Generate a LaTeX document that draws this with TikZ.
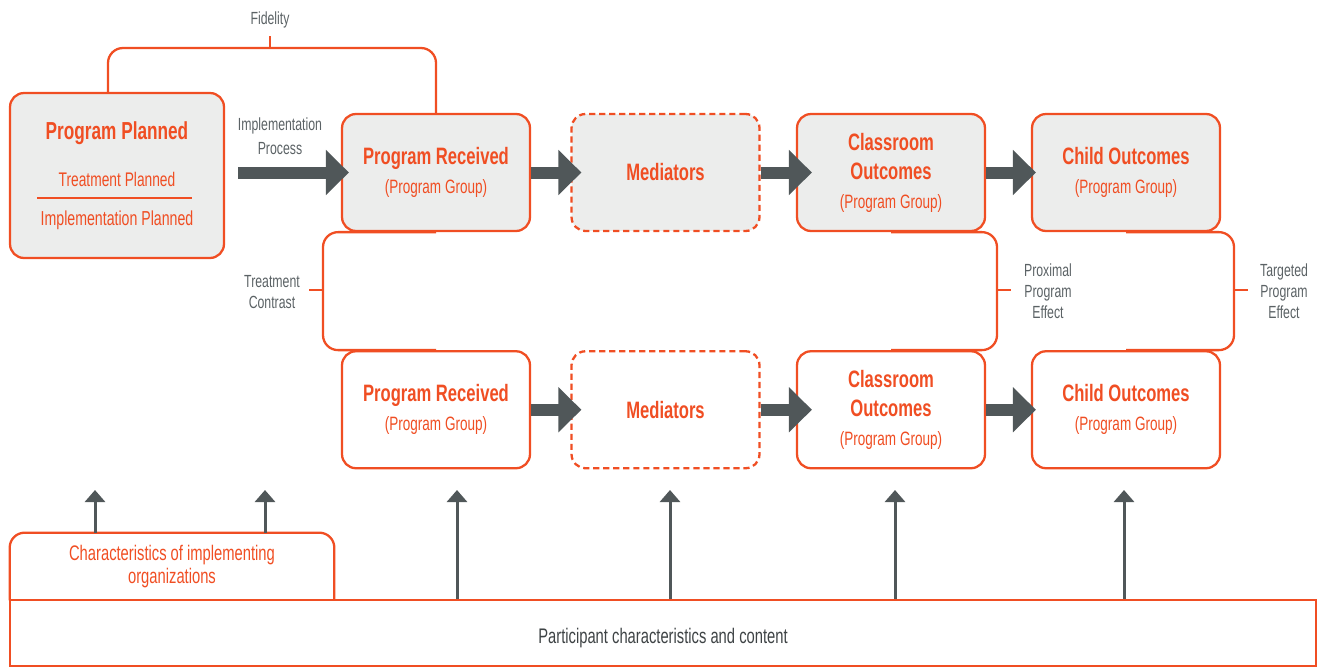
\documentclass[tikz,border=0pt]{standalone}
\usepackage{fontspec}
\setmainfont{Liberation Sans}[FakeStretch=0.7]
\usetikzlibrary{arrows.meta,positioning,backgrounds}
\definecolor{ieorange}{HTML}{F04E23}
\definecolor{iegray}{HTML}{505759}
\definecolor{iefill}{HTML}{ECEDEC}
\definecolor{ietext}{HTML}{5B6265}
\definecolor{iedark}{HTML}{3E4345}
\newcommand\boxhead[1]{{\fontsize{13.5}{16.5}\selectfont\bfseries #1}}

\begin{document}
\begin{tikzpicture}[x=0.02cm, y=-0.02cm,
    stage/.style={draw=ieorange, line width=1.3pt, rounded corners=0.28cm, fill=iefill, minimum width=3.76cm, minimum height=2.34cm, align=center, text=ieorange, font=\fontsize{11}{16.5}\selectfont},
    openstage/.style={stage, fill=white},
    mediator/.style={dash pattern=on 3.5pt off 2.2pt},
    note/.style={text=ietext, align=center, font=\fontsize{10}{12}\selectfont},
    bracket/.style={draw=ieorange, line width=1.3pt, rounded corners=0.3cm},
    flow/.style={draw=iegray, line width=0.24cm, -{Triangle[length=0.46cm, width=0.88cm]}},
    lift/.style={draw=iegray, line width=0.06cm, -{Triangle[length=0.24cm, width=0.4cm]}},
  ]
	\useasboundingbox (0,0) rectangle (1317,667);

	% program group row
	\node[stage, minimum width=4.28cm, minimum height=3.3cm] (planned) at (117,175.5) {};
	\node[stage] (pr) at (436,172.5) {\boxhead{Program Received}\\(Program Group)};
	\node[stage, mediator] (med) at (665.5,172.5) {\boxhead{Mediators}};
	\node[stage] (cls) at (891,172.5) {\boxhead{Classroom}\\\boxhead{Outcomes}\\(Program Group)};
	\node[stage] (child) at (1126,172.5) {\boxhead{Child Outcomes}\\(Program Group)};

	% second row
	\node[openstage, below=2.36cm of pr] (pr2) {\boxhead{Program Received}\\(Program Group)};
	\node[openstage, mediator, below=2.36cm of med] (med2) {\boxhead{Mediators}};
	\node[openstage, below=2.36cm of cls] (cls2) {\boxhead{Classroom}\\\boxhead{Outcomes}\\(Program Group)};
	\node[openstage, below=2.36cm of child] (child2) {\boxhead{Child Outcomes}\\(Program Group)};

	\node[text=ieorange, font=\fontsize{14}{16}\selectfont\bfseries] (plantitle) at (117,133) {Program Planned};
	\node[text=ieorange, font=\fontsize{11.2}{13}\selectfont] (treat) at (117,179) {Treatment Planned};
	\node[text=ieorange, font=\fontsize{11.5}{13}\selectfont] (implplan) at (117,220) {Implementation Planned};
	\draw[ieorange, line width=0.8pt] (37,198) -- (192,198);

	% brackets
	\coordinate (fidtop) at (270,48);
	\coordinate (contrastmid) at (323,290);
	\coordinate (proxmid) at (997,290);
	\coordinate (targmid) at (1234,290);
	\begin{scope}[on background layer]
		\draw[bracket] ([xshift=-0.18cm]planned.north) |- (fidtop) -| (pr.north);
		\draw[bracket] (fidtop) -- ++(0,-12);
		\draw[bracket] (pr.south) -| (contrastmid) |- (pr2.north);
		\draw[bracket] (contrastmid) -- ++(-14,0);
		\draw[bracket] (cls.south) -| (proxmid) |- (cls2.north);
		\draw[bracket] (proxmid) -- ++(14,0);
		\draw[bracket] (child.south) -| (targmid) |- (child2.north);
		\draw[bracket] (targmid) -- ++(14,0);
	\end{scope}

	% labels
	\node[note] (fidelity) at (270,20) {Fidelity};
	\node[note] (implproc) at (280,136) {Implementation\\[1.5pt]Process};
	\node[note] (contrast) at (272,292) {Treatment\\Contrast};
	\node[note] (proximal) at (1048,291) {Proximal\\Program\\Effect};
	\node[note] (targeted) at (1284,291) {Targeted\\Program\\Effect};

	% flow arrows
	\coordinate (implstart) at (238,172.5);
	\draw[flow, shorten >=-0.16cm] (implstart) -- (pr.west);
	\draw[flow, shorten >=-0.22cm] (pr.east) -- (med.west);
	\draw[flow, shorten >=-0.32cm] (med.east) -- (cls.west);
	\draw[flow, shorten >=-0.1cm] (cls.east) -- (child.west);
	\draw[flow, shorten >=-0.22cm] (pr2.east) -- (med2.west);
	\draw[flow, shorten >=-0.32cm] (med2.east) -- (cls2.west);
	\draw[flow, shorten >=-0.1cm] (cls2.east) -- (child2.west);

	% context boxes
	\node[minimum width=6.48cm, minimum height=1.34cm, text=ieorange, align=center, font=\fontsize{12}{13.5}\selectfont] (orgs) at (172,566.5) {Characteristics of implementing\\organizations};
	\draw[bracket] (orgs.south west) |- (orgs.north) -| (orgs.south east);
	\node[draw=ieorange, line width=1.3pt, minimum width=26.12cm, minimum height=1.32cm, text height=14pt, text=iedark, font=\fontsize{12}{14}\selectfont] (part) at (663,633) {Participant characteristics and content};

	\coordinate (orgup1) at (95,490);
	\coordinate (orgup2) at (265,490);
	\draw[lift] (orgs.north -| orgup1) -- (orgup1);
	\draw[lift] (orgs.north -| orgup2) -- (orgup2);
	\foreach \x [count=\i] in {457,670,895,1124} {
		\coordinate (up\i) at (\x,490);
		\draw[lift] (part.north -| up\i) -- (up\i);
	}
\end{tikzpicture}
\end{document}
